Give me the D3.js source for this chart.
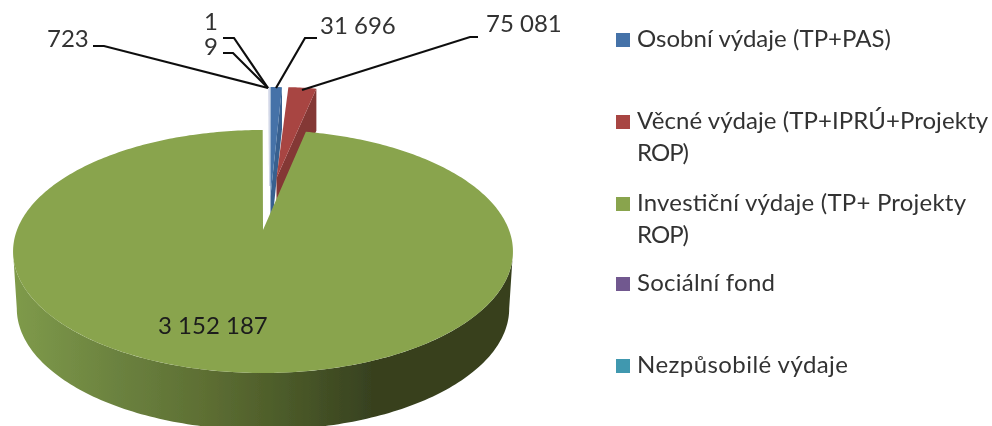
<!DOCTYPE html>
<html><head><meta charset="utf-8">
<style>html,body{margin:0;padding:0;background:#fff}svg{display:block}text{font-family:Lato,"Open Sans",sans-serif;fill:#333}</style>
<script src="https://cdnjs.cloudflare.com/ajax/libs/d3/7.8.5/d3.min.js"></script>
</head><body><script>
const categories=["Osobní výdaje (TP+PAS)","Věcné výdaje (TP+IPRÚ+Projekty ROP)","Investiční výdaje (TP+ Projekty ROP)","Sociální fond","Nezpůsobilé výdaje",""];
const values=[31696,75081,3152187,723,9,1];
const valueLabels=["31 696","75 081","3 152 187","723","9","1"];
const colors=["#4472a8","#a84543","#89a44e","#71588f","#4198af","#db843d"];
const wallColors=["#38608f","#843735","#89a44e","#5a4672","#337a8c","#a8652e"];
const legendLines=[["Osobní výdaje (TP+PAS)"],["Věcné výdaje (TP+IPRÚ+Projekty","ROP)"],["Investiční výdaje (TP+ Projekty","ROP)"],["Sociální fond"],["Nezpůsobilé výdaje"]];
const legendWidths=[[254],[351,52],[329,52],[138],[211]];

const W=992,H=426;
const svg=d3.select("body").append("svg").attr("width",W).attr("height",H);
const defs=svg.append("defs");
defs.append("filter").attr("id","soft").attr("x",0).attr("y",0).attr("width",1).attr("height",1)
  .attr("filterUnits","objectBoundingBox").append("feGaussianBlur").attr("stdDeviation",.45);
const grad=defs.append("linearGradient").attr("id","wall").attr("gradientUnits","userSpaceOnUse")
  .attr("x1",12).attr("x2",513).attr("y1",0).attr("y2",0);
[[0,"#7f9b4a"],[.2,"#6c8340"],[.4,"#5c6d32"],[.55,"#4b5a29"],[.72,"#37411f"],[1,"#37411f"]]
  .forEach(s=>grad.append("stop").attr("offset",s[0]).attr("stop-color",s[1]));
const root=svg.append("g").attr("filter","url(#soft)");
root.append("rect").attr("width",W).attr("height",H).attr("fill","#fff");

const pie=d3.pie().sort(null).value(d=>d).startAngle(0).endAngle(2*Math.PI);
const arcs=pie(values);

// projection of the tilted disc; the perspective makes the far half shorter
const K=.177,RX=246,RY=117.7,DEPTH=57;
const layout=[
 {cx:270.5,cy:196,sx:.9,sy:1.09},    // exploded
 {cx:276.5,cy:178,sx:.93,sy:.91},    // exploded
 {cx:263,cy:230,sx:1,sy:1}
];
const proj=(l,t)=>{const c=Math.cos(t),s=Math.sin(t),d=1+K*c;
  return [l.cx+l.sx*RX*s/d,l.cy-l.sy*RY*c/d];};
const line=d3.line();
const arcPts=(l,a,b,n)=>d3.range(n+1).map(i=>proj(l,a+(b-a)*i/n));

const g=root.append("g");
// hairline slices sitting against the blue one
arcs.slice(3).forEach(a=>{
  const l=layout[0],o=proj(l,a.startAngle-.002);
  g.append("path").attr("d",line([[l.cx-.8,l.cy-10],[o[0]-.8,o[1]]])).attr("stroke","#d3d8e8").attr("stroke-width",1.3).attr("fill","none");
});
// exploded slices: walls then tops
[0,1].forEach(i=>{
  const a=arcs[i],l=layout[i];
  const out=proj(l,a.endAngle),ap=[l.cx,l.cy];
  g.append("path").attr("d",line([ap,out,[out[0],out[1]+DEPTH-15],[ap[0],ap[1]+DEPTH-15]])+"Z").attr("fill",wallColors[i]);
  g.append("path").attr("d",line([ap,...arcPts(l,a.startAngle,a.endAngle,12)])+"Z").attr("fill",colors[i]);
});
// main slice
const a=arcs[2],l=layout[2],lower={cx:263,cy:230+DEPTH,sx:.985,sy:1};
const T0=Math.PI/2+.178,T1=3*Math.PI/2-.178;
g.append("path").attr("d",line([...arcPts(l,T0,T1,160),...arcPts(lower,T0,T1,160).reverse()])+"Z").attr("fill","url(#wall)");
g.append("path").attr("d",line([[l.cx,l.cy],...arcPts(l,a.startAngle,a.endAngle,360)])+"Z").attr("fill",colors[2]);

// leader lines
const leaders=[
 [[93,46],[104,46],[268,88]],
 [[223,38],[234,38],[268,88]],
 [[223,53],[233,53],[268,88]],
 [[317,38],[305,38],[276,88]],
 [[478,37],[470,37],[302,90]]
];
leaders.forEach(p=>root.append("path").attr("d",line(p)).attr("fill","none").attr("stroke","#111").attr("stroke-width",2.2));

// value labels
const fs=24;
const labelSpots=[[320,34,0],[486,32,1],[158,334,2],[47,47,3],[204,55,4],[204,30,5]];
labelSpots.forEach(s=>root.append("text").attr("x",s[0]).attr("y",s[1]).attr("font-size",fs)
  .style("fill",s[2]==2?"#1c1c1c":"#333").text(valueLabels[s[2]]));

// legend
const legendY=[47,129,211,291,373];
legendLines.forEach((ls,i)=>{
  root.append("rect").attr("x",616).attr("y",legendY[i]-14).attr("width",14).attr("height",14).attr("fill",colors[i]);
  ls.forEach((t,j)=>root.append("text").attr("x",637).attr("y",legendY[i]+j*32).attr("font-size",fs)
    .attr("textLength",legendWidths[i][j]).attr("lengthAdjust","spacing").text(t));
});
</script></body></html>
